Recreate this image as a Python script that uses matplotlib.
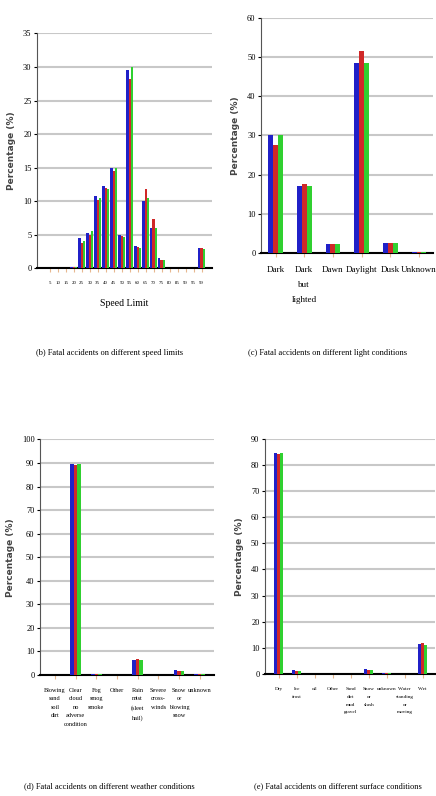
import numpy as np
import matplotlib
matplotlib.use("Agg")
import matplotlib.pyplot as plt

plt.rcParams['font.family'] = ['Liberation Serif', 'DejaVu Serif']

# (b) speed limits
speed_labels = ['5', '10', '15', '20', '25', '30', '35', '40', '45', '50',
                '55', '60', '65', '70', '75', '80', '85', '90', '95', '99']
speed_a = [0.1, 0.1, 0.1, 0.2, 4.5, 5.2, 10.8, 12.3, 15.0, 5.0,
           29.5, 3.3, 10.0, 6.0, 1.5, 0.1, 0.1, 0.1, 0.1, 3.0]
speed_b = [0.1, 0.1, 0.1, 0.2, 3.8, 5.0, 10.2, 12.0, 14.5, 4.8,
           28.2, 3.2, 11.8, 7.3, 1.3, 0.1, 0.1, 0.1, 0.1, 3.0]
speed_c = [0.1, 0.1, 0.1, 0.2, 4.0, 5.5, 10.5, 11.8, 15.0, 4.7,
           30.0, 3.0, 10.5, 6.0, 1.2, 0.1, 0.1, 0.1, 0.1, 2.8]

# (c) light conditions
light_labels = ['Dark', 'Dark\nbut\nlighted', 'Dawn', 'Daylight', 'Dusk', 'Unknown']
light_a = [30.0, 17.0, 2.3, 48.5, 2.5, 0.3]
light_b = [27.5, 17.5, 2.2, 51.5, 2.6, 0.4]
light_c = [30.0, 17.0, 2.4, 48.5, 2.5, 0.2]

# (d) weather conditions
weather_labels = ['Blowing\nsand\nsoil\ndirt', 'Clear\ncloud\nno\nadverse\ncondition',
                  'Fog\nsmog\nsmoke', 'Other', 'Rain\nmist\n(sleet\nhail)',
                  'Severe\ncross-\nwinds', 'Snow\nor\nblowing\nsnow', 'unknown']
weather_a = [0.1, 89.5, 0.5, 0.2, 6.5, 0.1, 2.0, 0.5]
weather_b = [0.1, 89.0, 0.4, 0.2, 6.8, 0.1, 1.5, 0.4]
weather_c = [0.1, 89.5, 0.5, 0.2, 6.5, 0.1, 1.8, 0.5]

# (e) surface conditions
surface_labels = ['Dry', 'Ice\nfrost', 'oil', 'Other', 'Sand\ndirt\nmud\ngravel',
                  'Snow\nor\nslush', 'unknown', 'Water\nstanding\nor\nmoving', 'Wet']
surface_a = [84.5, 1.5, 0.1, 0.2, 0.2, 1.8, 0.6, 0.2, 11.5]
surface_b = [84.0, 1.2, 0.1, 0.2, 0.2, 1.5, 0.5, 0.2, 11.8]
surface_c = [84.5, 1.3, 0.1, 0.2, 0.2, 1.7, 0.4, 0.2, 11.0]

colors = ['#2020c8', '#d02828', '#30d030']

fig = plt.figure(figsize=(4.36, 7.96), dpi=100)


def panel(rect, labels, series, ymax, ystep, xlim, width, xfs, lsp):
    ax = fig.add_axes(rect)
    x = np.arange(len(labels))
    for k, vals in enumerate(series):
        ax.bar(x + (k - 1) * width, vals, width, color=colors[k], zorder=3)
    ax.set_ylim(0, ymax)
    ax.set_xlim(*xlim)
    ax.set_yticks(np.arange(0, ymax + 0.1, ystep))
    ax.yaxis.grid(True, color='#c8c8c8', lw=1.5, zorder=0)
    ax.set_xticks(x)
    ax.set_xticklabels(labels, fontsize=xfs, linespacing=lsp, va='top')
    ax.tick_params(axis='x', length=3, color='#e8b890', pad=6)
    ax.tick_params(axis='y', labelsize=6, length=2, pad=2)
    for s in ['top', 'right']:
        ax.spines[s].set_visible(False)
    ax.spines['bottom'].set_linewidth(1.5)
    ax.spines['left'].set_color('#555555')
    ax.set_ylabel('Percentage (%)', fontsize=6.5, fontweight='bold',
                  family='DejaVu Sans', color='#444444', labelpad=5)
    return ax


ax1 = panel([0.085, 0.663, 0.401, 0.295], speed_labels,
            [speed_a, speed_b, speed_c], 35, 5, (-1.6, 20.3), 0.28, 3.5, 1.0)
ax1.set_xlabel('Speed Limit', fontsize=7, labelpad=10)

ax2 = panel([0.599, 0.682, 0.395, 0.296], light_labels,
            [light_a, light_b, light_c], 60, 10, (-0.5, 5.5), 0.17, 6.5, 2.2)

ax3 = panel([0.092, 0.152, 0.399, 0.296], weather_labels,
            [weather_a, weather_b, weather_c], 100, 10, (-0.72, 7.7), 0.17, 4.5, 1.9)

ax4 = panel([0.608, 0.153, 0.39, 0.296], surface_labels,
            [surface_a, surface_b, surface_c], 90, 10, (-0.77, 8.7), 0.17, 3.8, 2.3)

fig.text(0.25, 1 - 353 / 796, '(b) Fatal accidents on different speed limits',
         ha='center', va='center', fontsize=6)
fig.text(0.75, 1 - 353 / 796, '(c) Fatal accidents on different light conditions',
         ha='center', va='center', fontsize=6)
fig.text(0.25, 1 - 786 / 796, '(d) Fatal accidents on different weather conditions',
         ha='center', va='center', fontsize=6)
fig.text(0.775, 1 - 786 / 796, '(e) Fatal accidents on different surface conditions',
         ha='center', va='center', fontsize=6)

fig.savefig('out.png', dpi=100)
